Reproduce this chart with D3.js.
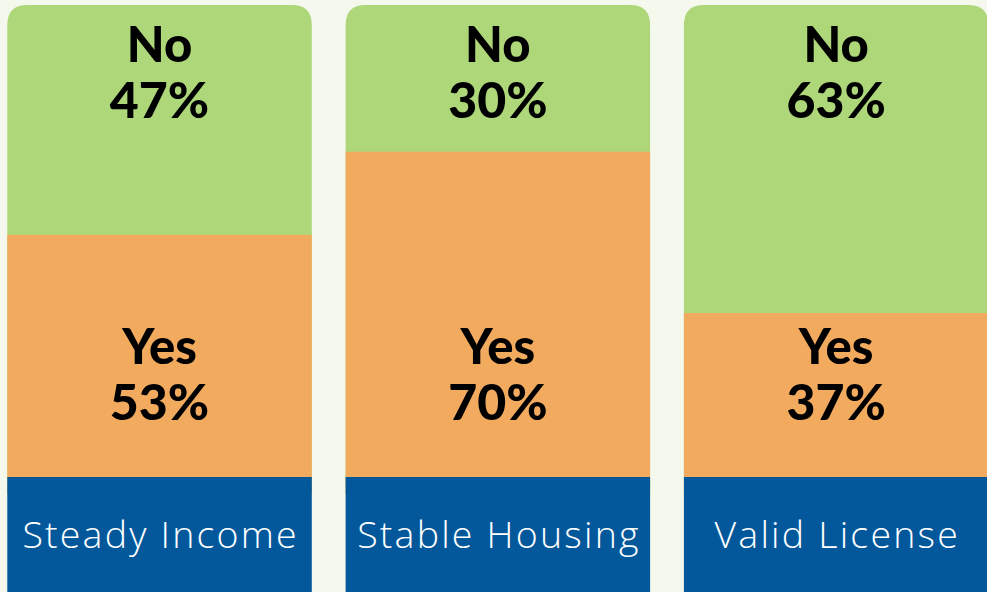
<!DOCTYPE html>
<html lang="en">
<head>
    <meta charset="UTF-8">
    <title>Yes / No bars</title>
    <script src="https://d3js.org/d3.v7.min.js"></script>
    <style>
        body {
            margin: 0;
            padding: 0;
            background-color: #f5f8ed;
            overflow: hidden;
        }
        .big {
            font-family: Lato, sans-serif;
            font-weight: 900;
            fill: #000;
        }
        .cat {
            font-family: "Open Sans", sans-serif;
            font-weight: 300;
            letter-spacing: 2.2px;
            fill: #fff;
        }
    </style>
</head>
<body>
    <div id="chart"></div>

    <script>
        const categories = ["Steady Income", "Stable Housing", "Valid License"];
        const yesValues = [53, 70, 37];
        const noValues = [47, 30, 63];

        const width = 987,
              height = 592;

        const data = categories.map((c, i) => ({ cat: c, yes: yesValues[i], no: noValues[i] }));

        const svg = d3.select("#chart")
            .append("svg")
            .attr("width", width)
            .attr("height", height);

        const x = d3.scaleBand()
            .domain(categories)
            .range([7.3, 988.4])
            .paddingInner(0.1)
            .paddingOuter(0);

        // bars run down under the blue label band
        const y = d3.scaleLinear()
            .domain([0, 100])
            .range([494, 5]);

        const bandTop = 477;
        const r = 20;

        const col = svg.selectAll("g.col")
            .data(data)
            .enter()
            .append("g")
            .attr("class", "col");

        // green "No" part, rounded top corners
        col.append("path")
            .attr("fill", "#add778")
            .attr("d", d => {
                const x0 = x(d.cat), x1 = x0 + x.bandwidth(), t = y(100), b = y(0);
                return `M${x0},${b} L${x0},${t + r} Q${x0},${t} ${x0 + r},${t} L${x1 - r},${t} Q${x1},${t} ${x1},${t + r} L${x1},${b} Z`;
            });

        col.append("rect")
            .attr("fill", "#f2ab5e")
            .attr("x", d => x(d.cat))
            .attr("width", x.bandwidth())
            .attr("y", d => y(d.yes))
            .attr("height", d => y(0) - y(d.yes));

        col.append("rect")
            .attr("fill", "#03589c")
            .attr("x", d => x(d.cat))
            .attr("width", x.bandwidth())
            .attr("y", bandTop)
            .attr("height", height - bandTop);

        const cx = d => x(d.cat) + x.bandwidth() / 2;

        // two-line labels as one text each
        function twoLine(word, key, y0) {
            const t = col.append("text").attr("class", "big").attr("text-anchor", "middle");
            t.append("tspan").attr("font-size", 49).attr("x", cx).attr("y", y0).text(word);
            t.append("tspan").attr("font-size", 50).attr("x", cx).attr("y", y0 + 56).text(d => d[key] + "%");
        }
        twoLine("No", "no", 62);
        twoLine("Yes", "yes", 364);

        col.append("text").attr("class", "cat").attr("text-anchor", "middle")
            .attr("font-size", 37.5).attr("x", d => cx(d) + 1.1).attr("y", 548).text(d => d.cat);
    </script>
</body>
</html>
